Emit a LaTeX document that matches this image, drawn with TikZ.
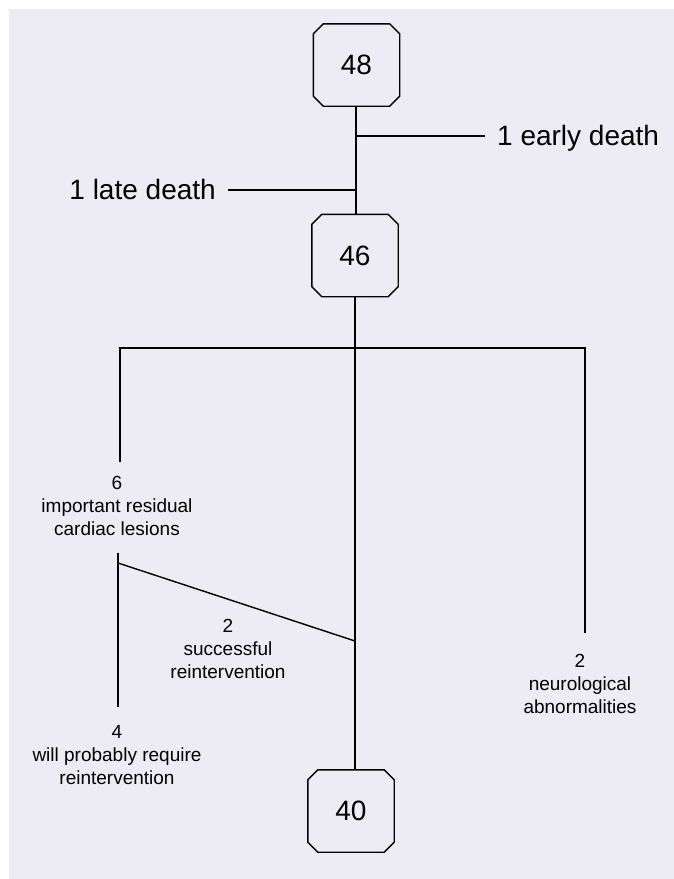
\documentclass[tikz,border=0pt]{standalone}
\usepackage{fontspec}
\setmainfont{Liberation Sans}
\usetikzlibrary{calc}
\definecolor{bgc}{RGB}{237,236,245}
\tikzset{
  numbox/.style={rectangle, minimum width=86pt, minimum height=82pt, inner sep=0pt,
    font=\fontsize{28}{30}\selectfont},
  bigtext/.style={inner sep=0pt, font=\fontsize{28}{30}\selectfont},
  smalltext/.style={inner sep=0pt, align=center, font=\fontsize{19}{23}\selectfont},
  ln/.style={line width=1.4pt, black},
}
\newcommand\chamfbox[1]{%
  \draw[ln] ($(#1.north west)+(10,0)$) -- ($(#1.north east)+(-10,0)$)
    -- ($(#1.north east)+(0,10)$) -- ($(#1.south east)+(0,-10)$)
    -- ($(#1.south east)+(-10,0)$) -- ($(#1.south west)+(10,0)$)
    -- ($(#1.south west)+(0,-10)$) -- ($(#1.north west)+(0,10)$) -- cycle;}
\begin{document}
\begin{tikzpicture}[x=1pt,y=-1pt]
\useasboundingbox (0,0) rectangle (674,879);
\fill[white] (0,0) rectangle (674,879);
\fill[bgc] (9,9) rectangle (674,879);
% boxes
\node[numbox] (b48) at (356.5,65) {48};
\node[numbox] (b46) at (355,255.5) {46};
\node[numbox] (b40) at (351,811) {40};
\chamfbox{b48}
\chamfbox{b46}
\chamfbox{b40}
% top trunk
\draw[ln] (b48.south -| 356,0) -- (356,214);
\coordinate (j1) at (356,136);
\coordinate (e1) at (485,136);
\node[bigtext, anchor=west] (early) at (497,138) {1 early death};
\draw[ln] (j1) -- (e1);
\coordinate (j2) at (356,190);
\coordinate (e2) at (228,190);
\node[bigtext, anchor=east] (late) at (216,189) {1 late death};
\draw[ln] (e2) -- (j2);
% main trunk
\coordinate (t1) at (355,297);
\coordinate (t2) at (355,770);
\draw[ln] (t1) -- (t2);
% branch
\coordinate (j3) at (355,348);
\coordinate (l1) at (120,348);
\coordinate (l2) at (120,462);
\coordinate (r1) at (585,348);
\coordinate (r2) at (585,633);
\draw[ln] (l2) -- (l1) -- (r1) -- (r2);
% residual lesions
\node[smalltext] (t6) at (117,506) {6\\important residual\\cardiac lesions};
\coordinate (l3) at (118,553);
\coordinate (l4) at (118,707);
\draw[ln] (l3) -- (l4);
\coordinate (d1) at (118,563);
\coordinate (d2) at (355,641);
\draw[ln] (d1) -- (d2);
\node[smalltext] (t2s) at (228,649) {2\\successful\\reintervention};
\node[smalltext] (t4) at (117,755) {4\\will probably require\\reintervention};
\node[smalltext] (tn) at (580,684) {2\\neurological\\abnormalities};
\end{tikzpicture}
\end{document}
